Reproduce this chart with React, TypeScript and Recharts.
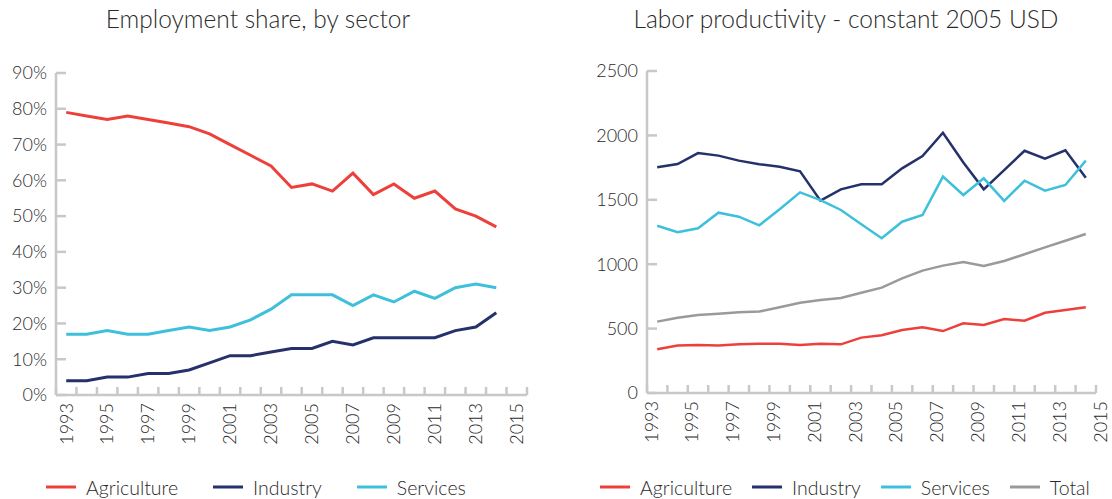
import React from 'react';
import { LineChart, Line, XAxis, YAxis, Legend } from 'recharts';

// years on the x axis
const years = [
  1993, 1994, 1995, 1996, 1997, 1998, 1999, 2000, 2001, 2002, 2003,
  2004, 2005, 2006, 2007, 2008, 2009, 2010, 2011, 2012, 2013, 2014,
];
const yearLabels = [1993, 1995, 1997, 1999, 2001, 2003, 2005, 2007, 2009, 2011, 2013, 2015];

// employment share, %
const shareAgriculture = [79, 78, 77, 78, 77, 76, 75, 73, 70, 67, 64, 58, 59, 57, 62, 56, 59, 55, 57, 52, 50, 47];
const shareIndustry = [4, 4, 5, 5, 6, 6, 7, 9, 11, 11, 12, 13, 13, 15, 14, 16, 16, 16, 16, 18, 19, 23];
const shareServices = [17, 17, 18, 17, 17, 18, 19, 18, 19, 21, 24, 28, 28, 28, 25, 28, 26, 29, 27, 30, 31, 30];
const shareTicks = [0, 10, 20, 30, 40, 50, 60, 70, 80, 90];

// labor productivity, constant 2005 USD
const prodAgriculture = [339, 368, 373, 368, 378, 383, 383, 373, 383, 378, 430, 448, 489, 510, 481, 541, 528, 575, 561, 623, 644, 665];
const prodIndustry = [1752, 1778, 1863, 1843, 1804, 1776, 1757, 1721, 1493, 1581, 1620, 1620, 1744, 1840, 2021, 1790, 1581, 1731, 1881, 1819, 1884, 1672];
const prodServices = [1299, 1248, 1279, 1400, 1369, 1302, 1426, 1558, 1498, 1421, 1310, 1201, 1330, 1382, 1680, 1537, 1667, 1491, 1648, 1571, 1615, 1804];
const prodTotal = [554, 585, 606, 616, 627, 632, 665, 701, 722, 738, 779, 818, 890, 950, 989, 1017, 986, 1025, 1077, 1131, 1182, 1234];
const prodTicks = [0, 500, 1000, 1500, 2000, 2500];

const FONT = 'Lato, "Open Sans", sans-serif';
const TEXT = '#2a2a2a';
const AXIS = '#c8c8c8';
const RED = '#ee403b';
const NAVY = '#25316a';
const CYAN = '#3ec0db';
const GREY = '#9a9a9a';

const shareData = years.map((year, i) => ({
  year,
  Agriculture: shareAgriculture[i],
  Industry: shareIndustry[i],
  Services: shareServices[i],
}));

const prodData = years.map((year, i) => ({
  year,
  Agriculture: prodAgriculture[i],
  Industry: prodIndustry[i],
  Services: prodServices[i],
  Total: prodTotal[i],
}));

// tick marks sit between the years, labels on every other year
function xTicks(lastYear: number) {
  const edges: number[] = [];
  for (let y = years[0]; y <= lastYear + 1; y++) edges.push(y - 0.5);
  return [...edges, ...yearLabels].sort((a, b) => a - b);
}

function makeXTick(shift: number) {
  return function XTick({ x, y, payload }: any) {
    const v = payload.value;
    if (!Number.isInteger(v)) {
      return <line x1={x} x2={x} y1={y} y2={y - 8} stroke={AXIS} strokeWidth={2.5} />;
    }
    const tx = x + shift;
    return (
      <text
        x={tx}
        y={y + 8}
        dy="0.35em"
        transform={`rotate(-90, ${tx}, ${y + 8})`}
        textAnchor="end"
        fill={TEXT}
        fontSize={18}
        fontFamily={FONT}
        fontWeight={300}
      >
        {v}
      </text>
    );
  };
}

function makeYTick(suffix: string) {
  return function YTick({ x, y, payload }: any) {
    return (
      <g>
        <line x1={x + 9} x2={x + 19} y1={y} y2={y} stroke={AXIS} strokeWidth={2.5} />
        <text
          x={x}
          y={y}
          dy="0.35em"
          textAnchor="end"
          fill={TEXT}
          fontSize={18}
          fontFamily={FONT}
          fontWeight={300}
        >
          {payload.value + suffix}
        </text>
      </g>
    );
  };
}

function makeLegend(gap: number) {
  return function LegendContent({ payload }: any) {
    return (
      <div style={{ display: 'flex', alignItems: 'center', gap, fontFamily: FONT, fontWeight: 300, fontSize: 19.5, color: TEXT, whiteSpace: 'nowrap', height: 24 }}>
        {(payload || []).map((p: any) => (
          <span key={p.value} style={{ display: 'flex', alignItems: 'center' }}>
            <svg width={30} height={4} style={{ marginRight: 10 }}>
              <line x1={0} x2={30} y1={2} y2={2} stroke={p.color} strokeWidth={3} />
            </svg>
            <span>{p.value}</span>
          </span>
        ))}
      </div>
    );
  };
}

const titleStyle: React.CSSProperties = {
  position: 'absolute',
  top: 4,
  fontFamily: FONT,
  fontWeight: 300,
  fontSize: 24.5,
  color: TEXT,
  whiteSpace: 'nowrap',
  transform: 'translateX(-50%)',
};

export default function App() {
  return (
    <div style={{ position: 'absolute', left: 0, top: 0, width: 1112, height: 499, background: '#fff', overflow: 'hidden' }}>
      <div style={{ ...titleStyle, left: 258 }}>Employment share, by sector</div>
      <div style={{ ...titleStyle, left: 846 }}>Labor productivity - constant 2005 USD</div>

      <div style={{ position: 'absolute', left: 0, top: 0 }}>
        <LineChart width={545} height={499} data={shareData} margin={{ top: 73, right: 18, left: 0, bottom: 0 }}>
          <XAxis
            dataKey="year"
            type="number"
            domain={[1992.5, 2015.5]}
            allowDataOverflow
            ticks={xTicks(2015)}
            interval={0}
            tick={makeXTick(0)}
            tickLine={false}
            tickSize={0}
            tickMargin={0}
            height={80}
            axisLine={{ stroke: AXIS, strokeWidth: 2.5 }}
          />
          <YAxis
            domain={[0, 90]}
            ticks={shareTicks}
            interval={0}
            width={56}
            tick={makeYTick('%')}
            tickLine={false}
            tickSize={0}
            tickMargin={9}
            axisLine={{ stroke: AXIS, strokeWidth: 2.5 }}
          />
          <Legend
            verticalAlign="bottom"
            align="left"
            content={makeLegend(35)}
            wrapperStyle={{ left: 46, top: 475, height: 24, width: 'auto' }}
          />
          <Line dataKey="Agriculture" stroke={RED} strokeWidth={3} dot={false} isAnimationActive={false} />
          <Line dataKey="Industry" stroke={NAVY} strokeWidth={3} dot={false} isAnimationActive={false} />
          <Line dataKey="Services" stroke={CYAN} strokeWidth={3} dot={false} isAnimationActive={false} />
        </LineChart>
      </div>

      <div style={{ position: 'absolute', left: 560, top: 0 }}>
        <LineChart width={552} height={499} data={prodData} margin={{ top: 71, right: 16, left: 0, bottom: 0 }}>
          <XAxis
            dataKey="year"
            type="number"
            domain={[1992.5, 2014.5]}
            allowDataOverflow
            ticks={xTicks(2014)}
            interval={0}
            tick={makeXTick(-6)}
            tickLine={false}
            tickSize={0}
            tickMargin={0}
            height={82}
            axisLine={{ stroke: AXIS, strokeWidth: 2.5 }}
          />
          <YAxis
            domain={[0, 2500]}
            ticks={prodTicks}
            interval={0}
            width={87}
            tick={makeYTick('')}
            tickLine={false}
            tickSize={0}
            tickMargin={9}
            axisLine={{ stroke: AXIS, strokeWidth: 2.5 }}
          />
          <Legend
            verticalAlign="bottom"
            align="left"
            content={makeLegend(20)}
            wrapperStyle={{ left: 40, top: 475, height: 24, width: 'auto' }}
          />
          <Line dataKey="Agriculture" stroke={RED} strokeWidth={2.5} dot={false} isAnimationActive={false} />
          <Line dataKey="Industry" stroke={NAVY} strokeWidth={2.5} dot={false} isAnimationActive={false} />
          <Line dataKey="Services" stroke={CYAN} strokeWidth={2.5} dot={false} isAnimationActive={false} />
          <Line dataKey="Total" stroke={GREY} strokeWidth={2.5} dot={false} isAnimationActive={false} />
        </LineChart>
      </div>
    </div>
  );
}
